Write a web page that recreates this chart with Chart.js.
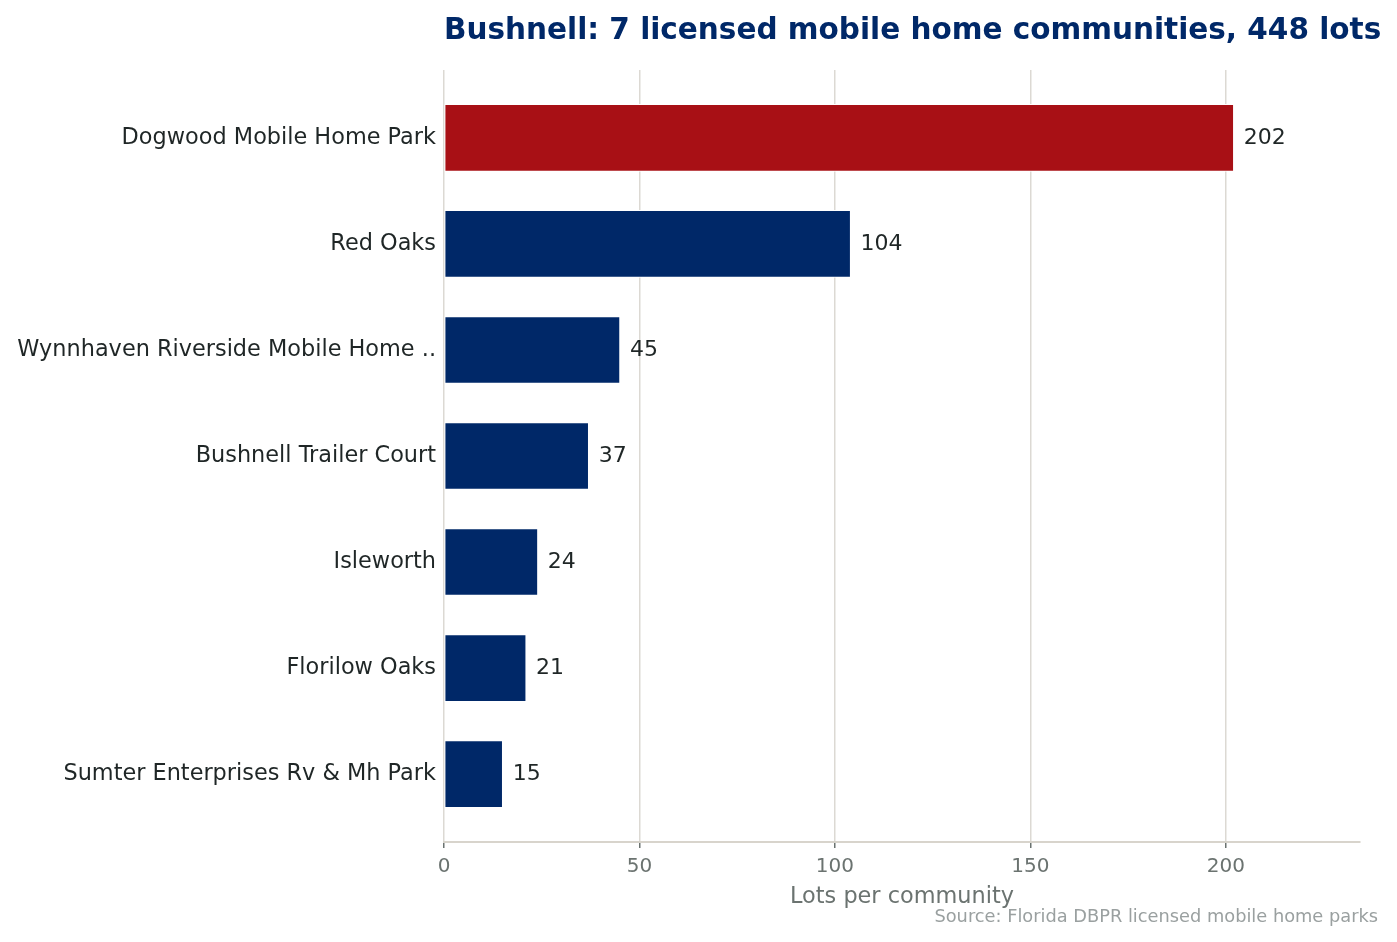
<!DOCTYPE html>
<html>
<head>
<meta charset="utf-8">
<title>Bushnell mobile home communities</title>
<script src="https://cdn.jsdelivr.net/npm/chart.js@4/dist/chart.umd.min.js"></script>
<style>
    html, body { margin: 0; padding: 0; background: #ffffff; }
    #wrap { width: 1397px; height: 942px; }
</style>
</head>
<body>
<div id="wrap"><canvas id="lotsChart" width="1397" height="942"></canvas></div>
<script>
// Chart data
const communities = [
    'Dogwood Mobile Home Park',
    'Red Oaks',
    'Wynnhaven Riverside Mobile Home ..',
    'Bushnell Trailer Court',
    'Isleworth',
    'Florilow Oaks',
    'Sumter Enterprises Rv & Mh Park'
];
const lots = [202, 104, 45, 37, 24, 21, 15];
const xTicks = [0, 50, 100, 150, 200];

const titleText = 'Bushnell: 7 licensed mobile home communities, 448 lots';
const sourceText = 'Source: Florida DBPR licensed mobile home parks';

const NAVY = '#002868';
const RED = '#a81015';
const FONT = "'DejaVu Sans', sans-serif";

// Draws the title, the value labels and the source note
const annotations = {
    id: 'annotations',
    afterDatasetsDraw(chart) {
        const ctx = chart.ctx;
        const area = chart.chartArea;
        ctx.save();

        // title
        ctx.font = `bold 29.5px ${FONT}`;
        ctx.fillStyle = NAVY;
        ctx.textAlign = 'left';
        ctx.textBaseline = 'middle';
        ctx.fillText(titleText, area.left, 31);

        // values at bar ends
        ctx.font = `22px ${FONT}`;
        ctx.fillStyle = '#1f2626';
        chart.getDatasetMeta(0).data.forEach((bar, i) => {
            ctx.fillText(String(lots[i]), bar.x + 10, bar.y);
        });

        // source
        ctx.font = `17.8px ${FONT}`;
        ctx.fillStyle = '#9aa0a0';
        ctx.textAlign = 'right';
        ctx.fillText(sourceText, 1378, 917);
        ctx.restore();
    }
};

const ctx = document.getElementById('lotsChart').getContext('2d');
new Chart(ctx, {
    type: 'bar',
    data: {
        datasets: [{
            data: lots.map((v, i) => ({ x: v, y: i })),
            backgroundColor: lots.map((v, i) => i === 0 ? RED : NAVY),
            borderColor: '#ffffff',
            borderWidth: 1,
            borderSkipped: false,
            barThickness: 67
        }]
    },
    plugins: [annotations],
    options: {
        indexAxis: 'y',
        responsive: false,
        animation: false,
        layout: { padding: { top: 70, right: 37, bottom: 31, left: 0 } },
        plugins: {
            legend: { display: false },
            tooltip: { enabled: false }
        },
        scales: {
            x: {
                type: 'linear',
                min: 0,
                max: 234.3,
                afterBuildTicks(scale) {
                    scale.ticks = xTicks.map(v => ({ value: v }));
                },
                afterFit(scale) { scale.height = 69; },
                grid: {
                    color: '#dcd9d3',
                    lineWidth: 1.5,
                    tickColor: '#6b7370',
                    tickLength: 6,
                    drawOnChartArea: true
                },
                border: { display: true, color: '#d8d4cc', width: 2 },
                ticks: {
                    color: '#6b7370',
                    font: { family: FONT, size: 20 },
                    padding: 7
                },
                title: {
                    display: true,
                    text: 'Lots per community',
                    color: '#6b7370',
                    font: { family: FONT, size: 22.4 },
                    padding: { top: 4, bottom: 0 }
                }
            },
            y: {
                type: 'linear',
                reverse: true,
                offset: false,
                min: -0.64,
                max: 6.64,
                afterBuildTicks(scale) {
                    scale.ticks = communities.map((c, i) => ({ value: i }));
                },
                afterFit(scale) { scale.width = 444; },
                grid: { display: false },
                border: { display: false },
                ticks: {
                    color: '#1f2626',
                    font: { family: FONT, size: 22.4 },
                    padding: 0,
                    callback: (value) => communities[value] ?? ''
                }
            }
        }
    }
});
</script>
</body>
</html>
